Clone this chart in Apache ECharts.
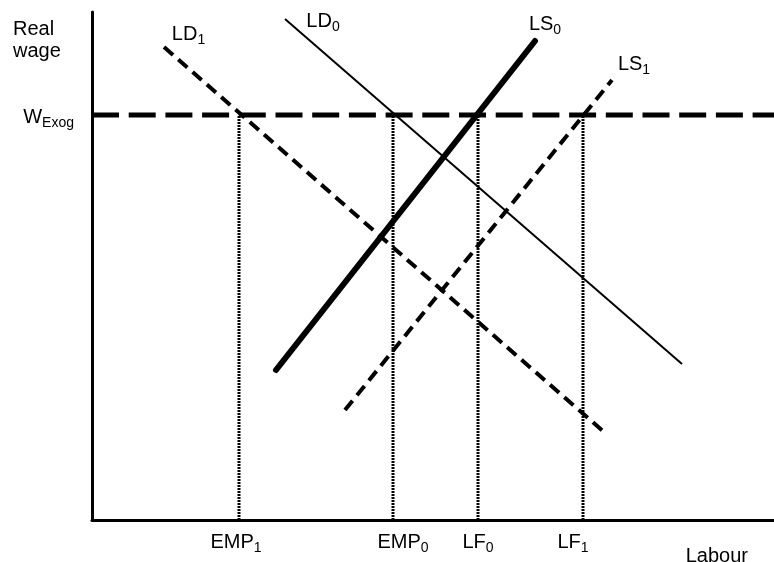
<!DOCTYPE html>
<html><head><meta charset="utf-8">
<script src="https://cdn.jsdelivr.net/npm/echarts@6/dist/echarts.min.js"></script>
<style>html,body{margin:0;padding:0;background:#fff}#c{width:774px;height:562px}</style>
</head><body><div id="c"></div>
<script>
// Schematic labour-market diagram (units)
const xMax = 682, yMax = 508;
const wExog = 405;
const LD0 = [[193, 501], [590, 156]];
const LD1 = [[72, 473], [512, 88]];
const LS0 = [[184, 150], [443, 479]];
const LS1 = [[253, 110], [520, 440]];
const dropX = [147, 301, 386, 491];          // EMP1, EMP0, LF0, LF1
const tickPos = [144, 311, 386, 481];        // label centres
const tickMain = ['EMP', 'EMP', 'LF', 'LF'];
const tickSub = ['1', '0', '0', '1'];
const curveNames = ['LD', 'LD', 'LS', 'LS'];
const curveSubs = ['0', '1', '0', '1'];
const curvePos = [[231, 499], [96.5, 485.5], [453, 495.5], [542, 455.5]];
const yTickPos = [wExog];
const yTickMain = ['W'];
const yTickSub = ['Exog'];

const FONT = 'Liberation Sans, Arial, Helvetica, sans-serif';
const rich = {
  m: { fontSize: 20, lineHeight: 20, fontFamily: FONT, color: '#000' },
  s: { fontSize: 14, lineHeight: 20, padding: [12, 0, 0, 0], fontFamily: FONT, color: '#000' }
};

const chart = echarts.init(document.getElementById('c'), null, { renderer: 'canvas' });

const series = [];
dropX.forEach(function (x) {
  series.push({
    type: 'line', silent: true, symbol: 'none', animation: false,
    data: [[x, 0], [x, wExog]],
    lineStyle: { color: '#000', width: 3, type: [2, 1] }
  });
});
series.push({
  type: 'line', silent: true, symbol: 'none',
  data: [[0, wExog], [xMax, wExog]],
  lineStyle: { color: '#000', width: 5, type: [27, 9.7] }
});
series.push({
  type: 'line', silent: true, symbol: 'none', data: LD0,
  lineStyle: { color: '#000', width: 2 }
});
series.push({
  type: 'line', silent: true, symbol: 'none', data: LD1,
  lineStyle: { color: '#000', width: 4, type: [12, 7] }
});
series.push({
  type: 'line', silent: true, symbol: 'none', data: LS1,
  lineStyle: { color: '#000', width: 4, type: [12, 7] }
});
series.push({
  type: 'line', silent: true, symbol: 'none', data: LS0,
  lineStyle: { color: '#000', width: 6, cap: 'round' }
});
series.push({
  type: 'scatter', silent: true, symbol: 'circle', symbolSize: 1, clip: false,
  itemStyle: { color: 'rgba(255,255,255,0)' },
  data: curvePos,
  label: {
    show: true, position: 'inside', color: '#000', opacity: 1,
    textBorderWidth: 0, textBorderColor: 'transparent',
    formatter: function (p) { return '{m|' + curveNames[p.dataIndex] + '}{s|' + curveSubs[p.dataIndex] + '}'; },
    rich: rich
  }
});

chart.setOption({
  animation: false,
  backgroundColor: '#fff',
  title: {
    text: 'Real\nwage', left: 13, top: 18, padding: 0,
    textStyle: { fontSize: 20, lineHeight: 22, fontWeight: 'normal', fontFamily: FONT, color: '#000' }
  },
  grid: { left: 92, right: 0, top: 12, bottom: 42, containLabel: false, outerBoundsMode: 'none' },
  xAxis: {
    type: 'value', min: 0, max: xMax,
    name: 'Labour', nameLocation: 'end', nameGap: -26,
    nameTextStyle: { fontSize: 20, lineHeight: 20, fontFamily: FONT, color: '#000', align: 'right', verticalAlign: 'top', padding: [26, 0, 0, 0] },
    axisLine: { show: true, lineStyle: { color: '#000', width: 3 } },
    axisTick: { show: false },
    splitLine: { show: false },
    axisLabel: {
      show: true, margin: 12, customValues: tickPos,
      formatter: function (v) {
        const i = tickPos.indexOf(v);
        return i < 0 ? '' : '{m|' + tickMain[i] + '}{s|' + tickSub[i] + '}';
      },
      rich: rich
    }
  },
  yAxis: {
    type: 'value', min: 0, max: yMax,
    axisLine: { show: true, lineStyle: { color: '#000', width: 3 } },
    axisTick: { show: false },
    splitLine: { show: false },
    axisLabel: {
      show: true, margin: 18, customValues: yTickPos, padding: [5, 0, 0, 0],
      formatter: function (v) {
        const i = yTickPos.indexOf(v);
        return i < 0 ? '' : '{m|' + yTickMain[i] + '}{s|' + yTickSub[i] + '}';
      },
      rich: rich
    }
  },
  series: series
});
</script></body></html>
